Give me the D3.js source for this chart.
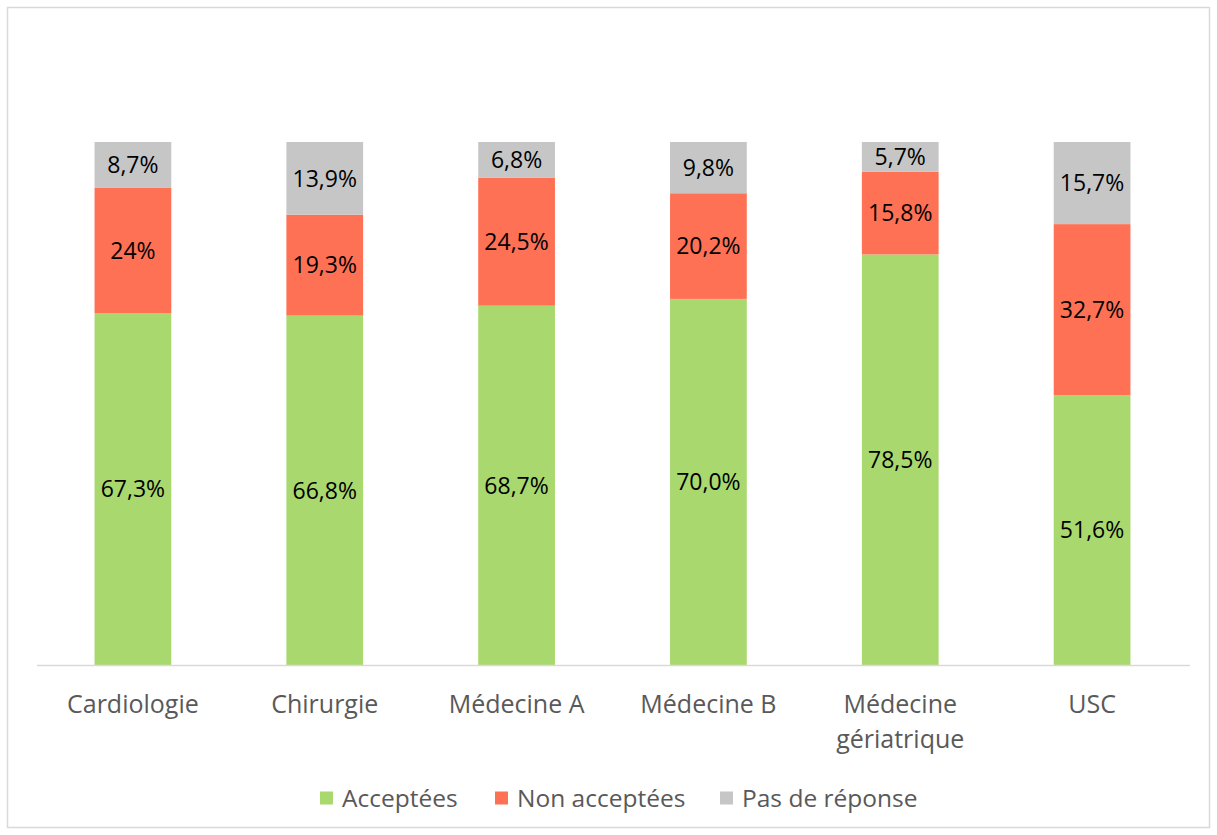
<!DOCTYPE html>
<html>
<head>
<meta charset="utf-8">
<script src="https://cdn.jsdelivr.net/npm/d3@7"></script>
<style>
  body { margin: 0; background: #fff; }
  svg { display: block; }
</style>
</head>
<body>
<div id="graph"></div>
<script>
// categories and series (percent)
var services = ["Cardiologie", "Chirurgie", "Médecine A", "Médecine B", "Médecine gériatrique", "USC"];
var acceptees = [67.3, 66.8, 68.7, 70.0, 78.5, 51.6];
var nonAcceptees = [24.0, 19.3, 24.5, 20.2, 15.8, 32.7];
var pasDeReponse = [8.7, 13.9, 6.8, 9.8, 5.7, 15.7];
var seriesNames = ["Acceptées", "Non acceptées", "Pas de réponse"];
var labelTexts = [
  ["67,3%", "66,8%", "68,7%", "70,0%", "78,5%", "51,6%"],
  ["24%", "19,3%", "24,5%", "20,2%", "15,8%", "32,7%"],
  ["8,7%", "13,9%", "6,8%", "9,8%", "5,7%", "15,7%"]
];
var colors = ["#a9d86e", "#ff7155", "#c6c6c6"];

var W = 1217, H = 835;
var margin = {top: 142, right: 29, bottom: 170, left: 37};
var width = W - margin.left - margin.right,
    height = H - margin.top - margin.bottom;
var font = "'Open Sans', sans-serif";

var svg = d3.select("#graph").append("svg")
    .attr("width", W)
    .attr("height", H);

// outer frame
svg.append("rect")
    .attr("x", 7.5).attr("y", 7.5)
    .attr("width", W - 15).attr("height", H - 15)
    .attr("fill", "#fff")
    .attr("stroke", "#d9d9d9")
    .attr("stroke-width", 1.5);

var g = svg.append("g")
    .attr("transform", "translate(" + margin.left + "," + margin.top + ")");

// build rows for stacking
var rows = services.map(function(s, i) {
  return { service: s, a: acceptees[i], n: nonAcceptees[i], p: pasDeReponse[i], i: i };
});
var stack = d3.stack().keys(["a", "n", "p"]);
var layers = stack(rows);

var x = d3.scaleBand().domain(services).range([0, width]).paddingInner(0.6).paddingOuter(0.3);
var y = d3.scaleLinear().domain([0, 100]).range([height, 0]);

var layer = g.selectAll(".layer")
    .data(layers)
  .enter().append("g")
    .attr("class", "layer")
    .attr("fill", function(d, k) { return colors[k]; });

layer.selectAll("rect")
    .data(function(d) { return d; })
  .enter().append("rect")
    .attr("x", function(d) { return x(d.data.service); })
    .attr("y", function(d) { return y(d[1]); })
    .attr("width", x.bandwidth())
    .attr("height", function(d) { return y(d[0]) - y(d[1]); });

// data labels
layers.forEach(function(L, k) {
  g.selectAll(".lab" + k)
      .data(L)
    .enter().append("text")
      .attr("x", function(d) { return x(d.data.service) + x.bandwidth() / 2; })
      .attr("y", function(d) { return (y(d[0]) + y(d[1])) / 2; })
      .attr("dy", "0.36em")
      .attr("text-anchor", "middle")
      .style("font-family", font)
      .style("font-size", "23px")
      .attr("fill", "#000")
      .text(function(d) { return labelTexts[k][d.data.i]; });
});

// x axis line
g.append("line")
    .attr("x1", 0).attr("x2", width + 2)
    .attr("y1", height + 0.5).attr("y2", height + 0.5)
    .attr("stroke", "#d9d9d9")
    .attr("stroke-width", 1.5);

// category labels (wrapped)
var wrapped = {"Médecine gériatrique": ["Médecine", "gériatrique"]};
services.forEach(function(s) {
  var lines = wrapped[s] || [s];
  var t = g.append("text")
      .attr("x", x(s) + x.bandwidth() / 2)
      .attr("y", height + 48)
      .attr("text-anchor", "middle")
      .style("font-family", font)
      .style("font-size", "25px")
      .attr("fill", "#595959");
  lines.forEach(function(l, j) {
    t.append("tspan")
      .attr("x", x(s) + x.bandwidth() / 2)
      .attr("dy", j ? 35 : 0)
      .text(l);
  });
});

// legend
var legendX = [320, 495, 720];
var leg = svg.append("g").attr("transform", "translate(0,798)");
seriesNames.forEach(function(n, k) {
  leg.append("rect")
      .attr("x", legendX[k]).attr("y", -6.5)
      .attr("width", 13).attr("height", 13)
      .attr("fill", colors[k]);
  leg.append("text")
      .attr("x", legendX[k] + 22)
      .attr("y", 0)
      .attr("dy", "0.35em")
      .style("font-family", font)
      .style("font-size", "24.5px")
      .attr("fill", "#595959")
      .text(n);
});
</script>
</body>
</html>
